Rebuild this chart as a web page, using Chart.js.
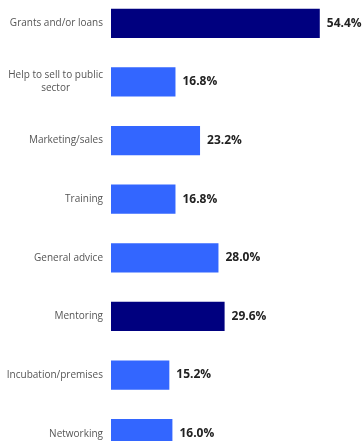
<!DOCTYPE html>
<html>
<head>
<meta charset="utf-8">
<script src="https://cdn.jsdelivr.net/npm/chart.js@4"></script>
<style>
  html, body { margin: 0; padding: 0; background: #fff; overflow: hidden; }
  body { width: 362px; height: 441px; position: relative; }
  #wrap { position: absolute; left: 0; top: -6px; width: 362px; height: 469px; }
</style>
</head>
<body>
<div id="wrap"><canvas id="supportBar"></canvas></div>
<script>
const categories = [
    'Grants and/or loans',
    ['Help to sell to public', 'sector'],
    'Marketing/sales',
    'Training',
    'General advice',
    'Mentoring',
    'Incubation/premises',
    'Networking'
];
const shares = [54.4, 16.8, 23.2, 16.8, 28.0, 29.6, 15.2, 16.0];
const highlighted = [true, false, false, false, false, true, false, false];

const NAVY = '#00007f';
const BLUE = '#3366ff';
const LABEL_FONT = "10px 'Open Sans', sans-serif";
const LABEL_RIGHT = 103;
const LINE_GAP = 13;

// category names: right aligned, wrapped names centred as a block
const categoryLabels = {
    id: 'categoryLabels',
    afterDraw(chart) {
        const ctx = chart.ctx;
        const yScale = chart.scales.y;
        ctx.save();
        ctx.font = LABEL_FONT;
        ctx.fillStyle = '#555';
        ctx.textBaseline = 'middle';
        ctx.textAlign = 'center';
        categories.forEach(function (label, i) {
            const lines = Array.isArray(label) ? label : [label];
            const widest = Math.max(...lines.map(l => ctx.measureText(l).width));
            const cx = LABEL_RIGHT - widest / 2;
            const y0 = yScale.getPixelForTick(i) - (lines.length - 1) * LINE_GAP / 2;
            lines.forEach(function (line, k) {
                ctx.fillText(line, cx, y0 + k * LINE_GAP);
            });
        });
        ctx.restore();
    }
};

// prints the percentage just past the end of each bar
const valueLabels = {
    id: 'valueLabels',
    afterDatasetsDraw(chart) {
        const ctx = chart.ctx;
        const meta = chart.getDatasetMeta(0);
        ctx.save();
        ctx.font = "bold 12px 'Open Sans', sans-serif";
        ctx.fillStyle = '#222';
        ctx.textAlign = 'left';
        ctx.textBaseline = 'middle';
        meta.data.forEach(function (bar, i) {
            ctx.fillText(shares[i].toFixed(1) + '%', bar.x + 7, bar.y);
        });
        ctx.restore();
    }
};

new Chart(document.getElementById('supportBar'), {
    type: 'bar',
    data: {
        labels: categories,
        datasets: [{
            data: shares,
            backgroundColor: highlighted.map(h => h ? NAVY : BLUE),
            borderWidth: 0,
            categoryPercentage: 1,
            barPercentage: 0.5
        }]
    },
    options: {
        indexAxis: 'y',
        responsive: true,
        maintainAspectRatio: false,
        animation: false,
        layout: { padding: 0 },
        plugins: { legend: { display: false }, tooltip: { enabled: false } },
        scales: {
            x: {
                display: false,
                min: 0,
                max: 65.4
            },
            y: {
                afterFit(scale) {
                    scale.width = 111;
                    scale.paddingTop = 0;
                    scale.paddingBottom = 0;
                },
                border: { display: false },
                grid: { display: false, drawTicks: false },
                ticks: { display: false }
            }
        }
    },
    plugins: [valueLabels, categoryLabels]
});
</script>
</body>
</html>
